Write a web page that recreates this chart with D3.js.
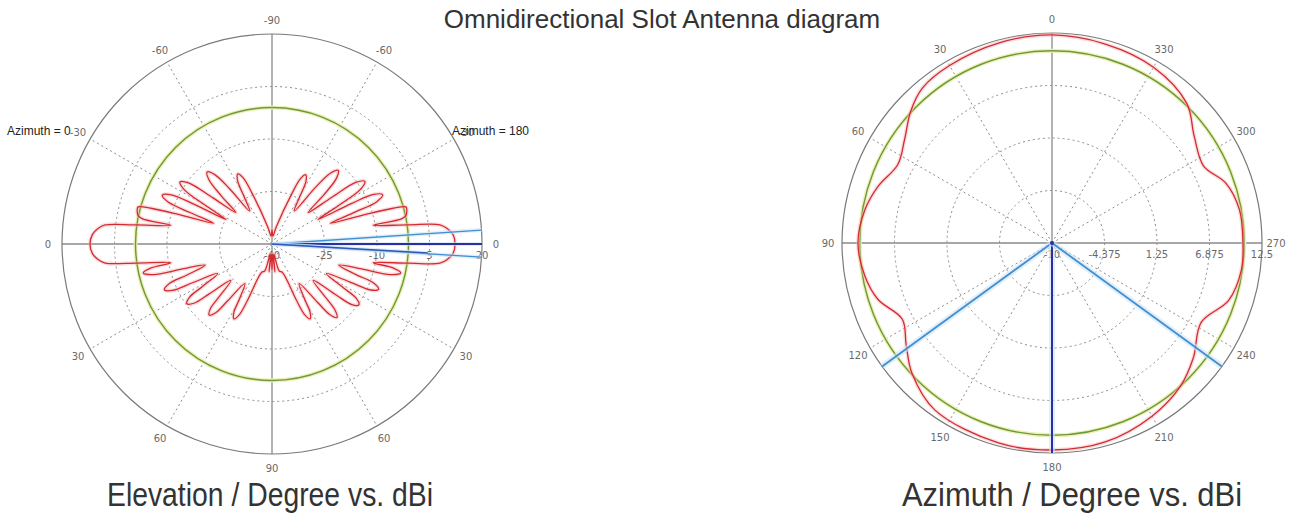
<!DOCTYPE html>
<html>
<head>
<meta charset="utf-8">
<script src="https://cdn.jsdelivr.net/npm/d3@7"></script>
<style>
  html, body { margin: 0; padding: 0; background: #fff; }
  svg { display: block; }
  .tick { font-family: "DejaVu Sans", sans-serif; font-size: 10px; fill: #6a6a6a; }
</style>
</head>
<body>
<svg id="chart" width="1297" height="518"></svg>
<script>
// elevation cut: degrees from horizon (negative = up), gain in dBi
const elevDeg = [-90, -84, -76, -68.5, -66.5, -64, -61.5, -59.5, -56, -52.5,
  -50.5, -48, -45.5, -43.5, -41, -38, -36.3, -34, -31.7, -30,
  -28, -27, -26, -24, -22, -21, -19.5, -17.5, -16.5, -15.5,
  -14, -12, -11, -10.5, -8, -6.5, -5, -3, 0,
  3, 5, 6.5, 8, 10.5, 11.2, 12.7, 14.5, 15.5, 17.5,
  20, 21, 23, 25, 26, 28.5, 31.5, 32.8, 35, 37.2,
  38.5, 41.5, 45, 46.3, 48.5, 50.7, 52, 55.5, 59.5, 60.8,
  63, 65.2, 66.5, 70, 75, 80, 84, 87, 90];
const gainAz0 = [-36.0, -37.7, -34.9, -24.3, -19.4, -17.7, -19.4, -24.3, -28.6, -20.0,
  -14.3, -12.3, -14.3, -20.0, -26.3, -18.6, -10.6, -8.3, -10.6, -18.6,
  -25.1, -14.9, -8.0, -5.7, -8.0, -14.9, -22.3, -11.4, -4.3, -0.3,
  -0.3, -0.9, -2.3, -10.6, -0.9, 8.0, 10.0, 11.4, 12.0,
  11.4, 10.0, 8.0, -0.9, -10.6, -4.6, -2.3, -5.1, -12.9, -20.0,
  -14.3, -8.6, -6.6, -8.6, -14.9, -22.3, -16.6, -12.0, -10.3, -12.0,
  -17.1, -24.3, -18.6, -14.6, -12.9, -14.6, -19.4, -26.3, -21.4, -17.7,
  -16.0, -17.7, -22.3, -31.4, -32.0, -37.1, -32.0, -37.1, -32.6];
const gainAz180 = [-36.0, -37.7, -34.9, -24.6, -19.7, -18.0, -19.7, -24.6, -28.6, -19.6,
  -13.8, -11.7, -13.8, -19.6, -26.3, -18.4, -10.3, -8.0, -10.3, -18.4,
  -25.1, -14.6, -7.7, -5.4, -7.7, -14.6, -22.3, -11.4, -4.3, -0.3,
  -0.3, -0.9, -2.3, -10.6, -0.6, 8.3, 10.3, 11.8, 12.3,
  11.8, 10.3, 8.3, -0.6, -10.6, -4.6, -2.3, -5.1, -12.9, -20.0,
  -14.6, -8.9, -6.9, -8.9, -15.2, -22.3, -16.0, -11.4, -9.7, -11.4,
  -16.6, -24.3, -18.0, -14.0, -12.0, -14.0, -18.8, -26.3, -21.4, -17.7,
  -16.0, -17.7, -22.3, -31.4, -32.0, -37.1, -32.0, -37.1, -32.6];
const elevRef = -1;
const elevBeamDeg = [-3.8, 0, 3.6, 3.3];
const elevBeamGain = [20, 20, 20, 4.6];
const elevRingTicks = [-40, -25, -10, 5, 20];
const elevAngleTicks = [-90, -60, -30, 0, 30, 60, 90];

// azimuth cut: degrees counter-clockwise from top
const azDeg = [0, 15, 30, 40, 47, 55, 63, 72, 80, 90, 100, 108, 117, 125, 133, 145, 165, 180, 195, 210, 222, 231, 242, 252,
  262, 270, 280, 289, 297, 307, 316, 330, 345];
const azGain = [12.29, 12.18, 11.96, 11.64, 10.7, 9.29, 8.54, 9.6, 10.36, 10.79, 10.36, 9.6, 8.0, 9.07, 10.5, 11.86, 12.18, 12.18,
  12.07, 11.43, 10.6, 9.5, 8.1, 9.9, 10.5, 10.46, 10.4, 9.7, 8.21, 9.07, 10.79, 11.75, 12.07];
const azRef = 10.6;
const azBeamDeg = [126, 180, 234];
const azRingTicks = [-10, -4.375, 1.25, 6.875, 12.5];
const azAngleTicks = [0, 30, 60, 90, 120, 150, 180, 210, 240, 270, 300, 330];

const svg = d3.select("#chart");
const R = 210;
const rad = (d) => (d * Math.PI) / 180;
const lightBlue = "#3f8fd2", darkBlue = "#2a2fa6", red = "#d42a30", green = "#6c9a3a";
const sans = "Liberation Sans, Arial, sans-serif";

svg.append("text")
  .attr("x", 662).attr("y", 28)
  .attr("text-anchor", "middle")
  .attr("font-family", sans)
  .attr("font-size", 26).attr("fill", "#333")
  .text("Omnidirectional Slot Antenna diagram");

// shared polar frame: rings at tick values, spokes every 30 degrees
function drawFrame(g, rScale, ticks, fmt) {
  ticks.slice(1, -1).forEach((t) => {
    g.append("circle").attr("r", rScale(t)).attr("fill", "none")
      .attr("stroke", "#8c8c8c").attr("stroke-dasharray", "2,3");
  });
  d3.range(0, 360, 30).forEach((a) => {
    const solid = a % 90 === 0;
    g.append("line")
      .attr("x1", 0).attr("y1", 0)
      .attr("x2", R * Math.sin(rad(a))).attr("y2", -R * Math.cos(rad(a)))
      .attr("stroke", solid ? "#8a8a8a" : "#8c8c8c")
      .attr("stroke-width", solid ? 1.3 : 1)
      .attr("stroke-dasharray", solid ? null : "2,3");
  });
  g.append("circle").attr("r", R).attr("fill", "none").attr("stroke", "#7a7a7a").attr("stroke-width", 1.2);
  ticks.forEach((t) => {
    g.append("text").attr("class", "tick")
      .attr("x", rScale(t)).attr("y", 15)
      .attr("text-anchor", "middle").text(fmt(t));
  });
}

function angleLabel(g, a, txt) {
  const LR = 224;
  g.append("text").attr("class", "tick")
    .attr("x", LR * Math.sin(rad(a))).attr("y", -LR * Math.cos(rad(a)) + 4)
    .attr("text-anchor", "middle").text(txt);
}

function halo(g, d, col, w, op) {
  g.append("path").attr("d", d).attr("fill", "none").attr("stroke", col).attr("stroke-width", w).attr("opacity", op);
}

// ---------- elevation chart ----------
const gE = svg.append("g").attr("transform", "translate(272,244)");
const rElev = d3.scaleLinear().domain([-40, 20]).range([0, R]).clamp(true);
drawFrame(gE, rElev, elevRingTicks, (t) => String(t));

elevAngleTicks.forEach((p) => {
  angleLabel(gE, -(90 + p), String(p));
  if (Math.abs(p) !== 90) angleLabel(gE, 90 + p, String(p));
});

gE.append("circle").attr("r", rElev(elevRef)).attr("fill", "none").attr("stroke", "#eef0b8").attr("stroke-width", 4);
gE.append("circle").attr("r", rElev(elevRef)).attr("fill", "none").attr("stroke", green).attr("stroke-width", 1.4);

// left half is the azimuth 0 cut, right half the azimuth 180 cut
const elevPts = elevDeg.map((p, i) => ({ a: -(90 + p), g: gainAz0[i] }))
  .concat(elevDeg.slice(1, -1).map((p, i) => ({ a: p - 270, g: gainAz180[i + 1] })).reverse());
const elevLine = d3.lineRadial()
  .angle((d) => rad(d.a))
  .radius((d) => rElev(d.g))
  .curve(d3.curveCatmullRomClosed.alpha(0.5));
const elevPath = elevLine(elevPts);
halo(gE, elevPath, "#f3b5b7", 4, 0.45);
gE.append("path").attr("d", elevPath).attr("fill", "none").attr("stroke", red).attr("stroke-width", 1.3);

elevBeamDeg.forEach((p, i) => {
  const a = rad(90 + p), rr = rElev(elevBeamGain[i]);
  const col = p === 0 ? darkBlue : (i === 3 ? "#2f57b8" : lightBlue);
  gE.append("line").attr("x1", 0).attr("y1", 0)
    .attr("x2", rr * Math.sin(a)).attr("y2", -rr * Math.cos(a))
    .attr("stroke", "#cfe5f7").attr("stroke-width", 4).attr("opacity", 0.6);
  gE.append("line").attr("x1", 0).attr("y1", 0)
    .attr("x2", rr * Math.sin(a)).attr("y2", -rr * Math.cos(a))
    .attr("stroke", col).attr("stroke-width", p === 0 ? 1.8 : 1.3);
});

svg.append("text").attr("x", 7).attr("y", 135)
  .attr("font-family", sans).attr("font-size", 12).attr("fill", "#222")
  .text("Azimuth = 0");
svg.append("text").attr("x", 452).attr("y", 135)
  .attr("font-family", sans).attr("font-size", 12).attr("fill", "#222")
  .text("Azimuth = 180");

// ---------- azimuth chart ----------
const gA = svg.append("g").attr("transform", "translate(1052,243)");
const rAz = d3.scaleLinear().domain([-10, 12.5]).range([0, R]).clamp(true);
drawFrame(gA, rAz, azRingTicks, (t) => String(t));
azAngleTicks.forEach((t) => angleLabel(gA, -t, String(t)));

gA.append("circle").attr("r", rAz(azRef)).attr("fill", "none").attr("stroke", "#eef0b8").attr("stroke-width", 4);
gA.append("circle").attr("r", rAz(azRef)).attr("fill", "none").attr("stroke", green).attr("stroke-width", 1.4);

const azLine = d3.lineRadial()
  .angle((d, i) => rad(-azDeg[i]))
  .radius((d) => rAz(d))
  .curve(d3.curveCatmullRomClosed.alpha(0.5));
const azPath = azLine(azGain);
halo(gA, azPath, "#f3b5b7", 4, 0.45);
gA.append("path").attr("d", azPath).attr("fill", "none").attr("stroke", red).attr("stroke-width", 1.3);

azBeamDeg.forEach((t) => {
  const a = rad(-t);
  const col = t === 180 ? darkBlue : lightBlue;
  gA.append("line").attr("x1", 0).attr("y1", 0)
    .attr("x2", R * Math.sin(a)).attr("y2", -R * Math.cos(a))
    .attr("stroke", "#cfe5f7").attr("stroke-width", 6).attr("opacity", 0.6);
  gA.append("line").attr("x1", 0).attr("y1", 0)
    .attr("x2", R * Math.sin(a)).attr("y2", -R * Math.cos(a))
    .attr("stroke", col).attr("stroke-width", t === 180 ? 2 : 1.8);
});
gA.append("circle").attr("r", 2).attr("fill", darkBlue);

// ---------- captions ----------
svg.append("text").attr("x", 270).attr("y", 506).attr("text-anchor", "middle")
  .attr("font-family", sans).attr("font-size", 33).attr("fill", "#333")
  .attr("textLength", 326).attr("lengthAdjust", "spacingAndGlyphs")
  .text("Elevation / Degree vs. dBi");
svg.append("text").attr("x", 1072).attr("y", 506).attr("text-anchor", "middle")
  .attr("font-family", sans).attr("font-size", 33).attr("fill", "#333")
  .attr("textLength", 340).attr("lengthAdjust", "spacingAndGlyphs")
  .text("Azimuth / Degree vs. dBi");
</script>
</body>
</html>
